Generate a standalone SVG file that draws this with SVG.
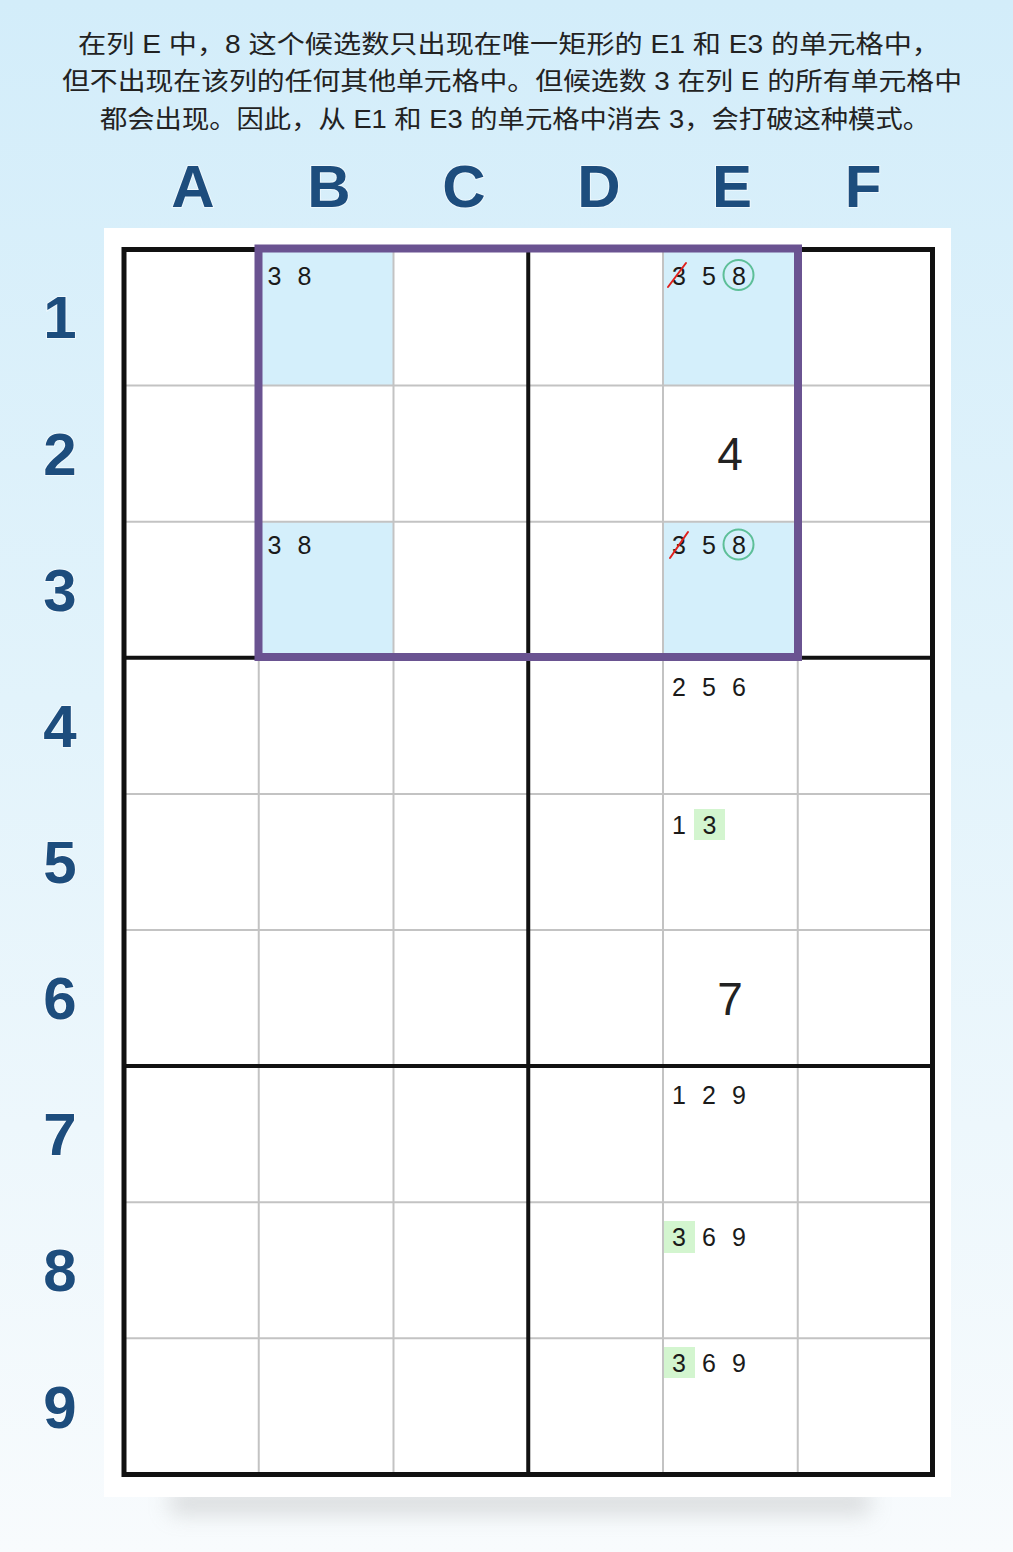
<svg xmlns="http://www.w3.org/2000/svg" width="1013" height="1552" viewBox="0 0 1013 1552">
<defs>
<linearGradient id="bg" x1="0" y1="0" x2="0" y2="1">
<stop offset="0" stop-color="#d3edfa"/>
<stop offset="0.45" stop-color="#e2f3fb"/>
<stop offset="1" stop-color="#f8fbfd"/>
</linearGradient>
<filter id="blur" x="-20%" y="-150%" width="140%" height="400%">
<feGaussianBlur stdDeviation="11"/>
</filter>
<style>
.title{font-family:"Liberation Sans","Noto Sans CJK SC",sans-serif;font-size:25px;fill:#222;}
.lbl{font-family:"Liberation Sans",Arial,sans-serif;font-weight:bold;font-size:60px;fill:#1d4d7d;text-anchor:middle;stroke:#ffffff;stroke-opacity:0.55;stroke-width:2;paint-order:stroke;}
.cand{font-family:"Liberation Sans",Arial,sans-serif;font-size:25px;fill:#1a1a1a;text-anchor:middle;}
.big{font-family:"Liberation Sans",Arial,sans-serif;font-size:46px;fill:#222;text-anchor:middle;}
.thin{stroke:#c3c3c3;stroke-width:2;fill:none;}
.thick{stroke:#111;stroke-width:4;fill:none;}
.hl{fill:#d4effb;}
.grn{fill:#d3f5cf;}
.ring{fill:none;stroke:#5dbf98;stroke-width:2;}
.strike{stroke:#e0201c;stroke-width:2;stroke-linecap:round;}
</style>
</defs>
<rect x="0" y="0" width="1013" height="1552" fill="url(#bg)"/>
<g id="title">
<text class="title" x="78" y="53" textLength="862" lengthAdjust="spacingAndGlyphs">在列 E 中，8 这个候选数只出现在唯一矩形的 E1 和 E3 的单元格中，</text>
<text class="title" x="62" y="90" textLength="900" lengthAdjust="spacingAndGlyphs">但不出现在该列的任何其他单元格中。但候选数 3 在列 E 的所有单元格中</text>
<text class="title" x="100" y="128" textLength="830" lengthAdjust="spacingAndGlyphs">都会出现。因此，从 E1 和 E3 的单元格中消去 3，会打破这种模式。</text>
</g>
<g id="col-labels">
<text class="lbl" x="193" y="207">A</text>
<text class="lbl" x="329" y="207">B</text>
<text class="lbl" x="464" y="207">C</text>
<text class="lbl" x="599" y="207">D</text>
<text class="lbl" x="732" y="207">E</text>
<text class="lbl" x="863" y="207">F</text>
</g>
<g id="row-labels">
<text class="lbl" x="60" y="338">1</text>
<text class="lbl" x="60" y="475">2</text>
<text class="lbl" x="60" y="611">3</text>
<text class="lbl" x="60" y="747">4</text>
<text class="lbl" x="60" y="883">5</text>
<text class="lbl" x="60" y="1019">6</text>
<text class="lbl" x="60" y="1155">7</text>
<text class="lbl" x="60" y="1291">8</text>
<text class="lbl" x="60" y="1428">9</text>
</g>
<g id="panel">
<rect x="170" y="1490" width="700" height="24" fill="#a0a0a0" opacity="0.35" filter="url(#blur)"/>
<rect x="104" y="228" width="847" height="1269" fill="#ffffff"/>
</g>
<g id="highlights">
<rect class="hl" x="259" y="250" width="135" height="136"/>
<rect class="hl" x="259" y="522" width="135" height="136"/>
<rect class="hl" x="663" y="250" width="135" height="136"/>
<rect class="hl" x="663" y="522" width="135" height="136"/>
</g>
<g id="grid">
<path class="thin" d="M258.75 249.5V1474.5M393.5 249.5V1474.5M663 249.5V1474.5M797.75 249.5V1474.5"/>
<path class="thin" d="M124 385.6H932.5M124 521.7H932.5M124 793.9H932.5M124 930H932.5M124 1202.2H932.5M124 1338.3H932.5"/>
<path class="thick" d="M528.25 249.5V1474.5M124 657.8H932.5M124 1066.1H932.5"/>
<rect x="124" y="249.5" width="808.5" height="1225" fill="none" stroke="#111" stroke-width="5"/>
</g>
<g id="rectangle">
<rect x="258.5" y="248.5" width="539.5" height="408.5" fill="none" stroke="#6a5391" stroke-width="8"/>
</g>
<g id="cell-B1">
<text class="cand" x="274.5" y="285">3</text>
<text class="cand" x="304.5" y="285">8</text>
</g>
<g id="cell-B3">
<text class="cand" x="274.5" y="554">3</text>
<text class="cand" x="304.5" y="554">8</text>
</g>
<g id="cell-E1">
<text class="cand" x="679" y="285">3</text>
<line class="strike" x1="668" y1="287" x2="686" y2="263"/>
<text class="cand" x="709" y="285">5</text>
<text class="cand" x="739" y="285">8</text>
<circle class="ring" cx="738.5" cy="275" r="15"/>
</g>
<g id="cell-E2">
<text class="big" x="730" y="470">4</text>
</g>
<g id="cell-E3">
<text class="cand" x="679" y="554">3</text>
<line class="strike" x1="670" y1="558" x2="688" y2="532"/>
<text class="cand" x="709" y="554">5</text>
<text class="cand" x="739" y="554">8</text>
<circle class="ring" cx="738.5" cy="544.5" r="15"/>
</g>
<g id="cell-E4">
<text class="cand" x="679" y="696">2</text>
<text class="cand" x="709" y="696">5</text>
<text class="cand" x="739" y="696">6</text>
</g>
<g id="cell-E5">
<rect class="grn" x="694" y="809" width="31" height="31"/>
<text class="cand" x="679" y="834">1</text>
<text class="cand" x="709.5" y="834">3</text>
</g>
<g id="cell-E6">
<text class="big" x="730" y="1015">7</text>
</g>
<g id="cell-E7">
<text class="cand" x="679" y="1104">1</text>
<text class="cand" x="709" y="1104">2</text>
<text class="cand" x="739" y="1104">9</text>
</g>
<g id="cell-E8">
<rect class="grn" x="664" y="1221" width="31" height="32"/>
<text class="cand" x="679" y="1246">3</text>
<text class="cand" x="709" y="1246">6</text>
<text class="cand" x="739" y="1246">9</text>
</g>
<g id="cell-E9">
<rect class="grn" x="664" y="1347" width="31" height="31"/>
<text class="cand" x="679" y="1372">3</text>
<text class="cand" x="709" y="1372">6</text>
<text class="cand" x="739" y="1372">9</text>
</g>
</svg>
